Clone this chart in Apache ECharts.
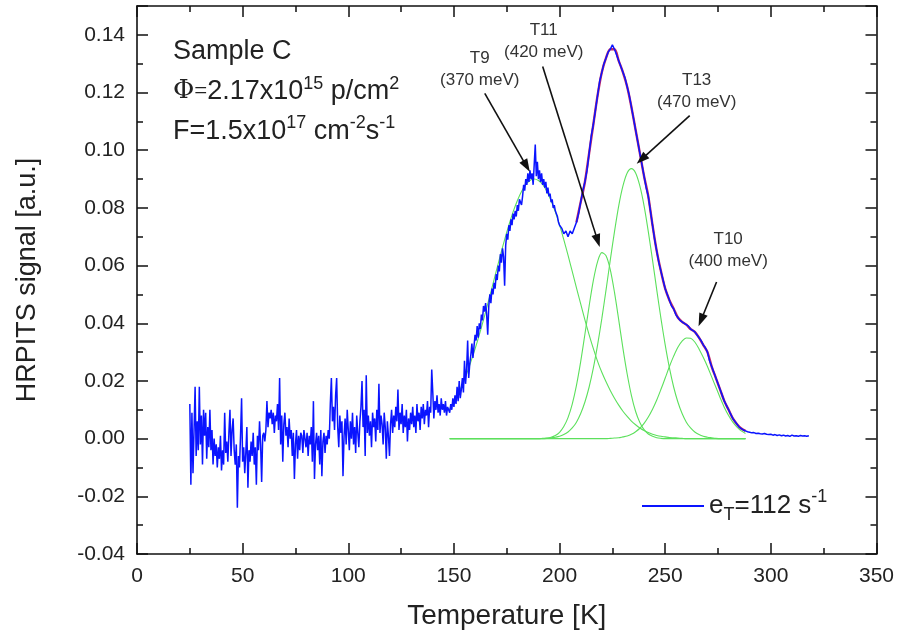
<!DOCTYPE html>
<html><head><meta charset="utf-8">
<script src="https://cdn.jsdelivr.net/npm/echarts@6/dist/echarts.min.js"></script>
<style>html,body{margin:0;padding:0;background:#fff}#c{width:897px;height:635px}</style>
</head><body><div id="c"></div>
<script>
// ---------- axes ----------
const xMin = 0, xMax = 350, xStep = 50;
const yMin = -0.04, yMax = 0.15, yStep = 0.02, yMinorStep = 0.01;
const xTitle = 'Temperature [K]';
const yTitle = 'HRPITS signal [a.u.]';

// ---------- measured HRPITS signal (blue) ----------
const blueStartA = 25, blueStepA = 0.5;
const blueValuesA = [
 0.012,-0.016,0.009,-0.012,0.003,0.018,-0.006,0.006,-0.004,0.018,
 -0.002,0.008,-0.009,0.010,0.001,0.009,-0.007,0.004,-0.003,0.010,
 -0.004,0.003,-0.009,0.000,-0.006,-0.002,-0.010,-0.003,-0.007,0.001,
 -0.011,-0.004,-0.009,0.009,-0.005,-0.001,-0.008,0.002,0.010,-0.006,
 0.003,0.007,-0.004,-0.009,-0.002,-0.024,-0.006,-0.010,0.001,0.014,
 -0.008,-0.003,-0.012,-0.005,0.004,-0.017,-0.004,-0.008,-0.001,-0.006,
 0.002,-0.009,-0.003,-0.016,0.001,-0.004,0.006,-0.002,-0.015,0.001,
 0.002,-0.001,0.003,0.013,0.004,0.009,0.007,0.010,0.005,0.009,
 0.002,0.008,0.006,0.012,0.003,0.021,-0.002,0.008,-0.008,0.005,
 0.009,0.001,0.004,-0.003,0.007,0.000,0.003,-0.006,0.002,-0.014,
 -0.002,0.003,-0.007,0.001,-0.004,0.002,0.001,-0.005,0.003,0.000,
 -0.003,0.002,-0.006,0.001,-0.002,0.004,-0.008,0.013,-0.014,-0.002,
 0.002,-0.004,0.001,-0.009,0.003,-0.013,-0.001,0.002,-0.005,0.001,
 -0.002,0.003,0.000,0.012,0.021,0.006,0.011,0.003,0.015,0.021,
 0.004,-0.003,0.008,0.002,0.006,-0.013,0.001,0.007,-0.002,0.010,
 0.003,-0.004,0.006,0.000,0.009,-0.002,0.004,-0.005,0.008,0.002,
 -0.003,0.006,0.011,0.020,0.004,0.010,-0.006,0.022,0.002,0.008,
 0.001,0.006,-0.003,0.009,0.004,0.007,-0.001,0.010,0.003,0.019,
 0.002,0.008,0.005,-0.002,0.009,0.004,-0.007,0.006,0.001,-0.006,
 0.005,0.010,0.002,0.008,0.004,0.011,0.006,0.017,0.003,0.009,
 0.005,0.012,0.002,0.008,0.004,0.010,-0.001,0.007,0.003,0.009,
 0.005,0.011,0.004,0.008,0.002,0.012,0.006,0.009,0.003,0.011,
 0.007,0.012,0.005,0.010,0.008,0.013,0.004,0.011,0.009,0.024,
 0.016,0.007,0.013,0.010,0.015,0.009,0.012,0.008,0.014,0.010,
 0.012,0.009,0.013,0.008,0.011,0.010,0.009,0.012,0.010,0.014,
 0.011,0.015,0.012,0.018,0.013,0.020,0.014,0.017,0.021,0.016,
 0.027,0.019,0.024,0.034,0.021,0.026,0.029,0.033,0.028,0.032,
 0.036,0.034,0.039,0.035,0.040,0.038,0.043,0.041,0.046,0.044,
 0.047,0.043,0.036,0.046,0.050,0.047,0.052,0.050,0.054,0.052,
 0.057,0.055,0.060,0.058,0.064,0.061,0.066,0.063,0.053,0.067,
 0.071,0.069,0.074,0.072,0.076,0.074,0.078,0.076,0.079,0.077,
 0.081,0.079,0.083,0.082,0.081,0.084,0.088,0.086,0.090,0.088,
 0.092,0.089,0.093,0.090,0.092,0.088,0.095,0.102,0.091,0.096,
 0.090,0.093,0.089,0.092,0.088,0.090,0.087,0.089,0.085,0.087,
 0.084,0.085,0.082,0.083,0.080,0.081,0.079,0.078,0.077,0.075,
 0.074
];
const blueStartB = 201, blueStepB = 1;
const blueValuesB = [
 0.073,0.071,0.072,0.070,0.072,0.071,0.073,0.075,0.078,0.082,
 0.086,0.089,0.093,0.099,0.105,0.109,0.114,0.119,0.124,0.127,
 0.130,0.132,0.134,0.135,0.1365,0.135,0.133,0.131,0.129,0.127,
 0.125,0.122,0.119,0.115,0.111,0.107,0.103,0.099,0.095,0.091,
 0.087,0.084,0.079,0.074,0.069,0.065,0.061,0.058,0.055,0.052,
 0.050,0.048,0.046,0.045,0.043,0.042,0.041,0.0405,0.040,0.0395,
 0.039,0.038,0.0375,0.037,0.036,0.035,0.034,0.0325,0.0315,0.030,
 0.027,0.025,0.023,0.021,0.019,0.017,0.015,0.013,0.0115,0.010,
 0.0085,0.007,0.006,0.005,0.004,0.0035,0.003,0.0027,0.0024,0.0022,
 0.0020,0.0021,0.0018,0.0019,0.0017,0.0016,0.0018,0.0015,0.0014,0.0015,
 0.0012,0.0014,0.0011,0.0013,0.0010,0.0012,0.0009,0.0011,0.0008,0.0012,
 0.0009,0.0010,0.0008,0.0011,0.0009,0.0010,0.0008,0.0010
];

// ---------- fitted components (green), T = 148..288 step 2 ----------
const fitStart = 148, fitStep = 2;
const fitT9 = [
 0.0103,0.0127,0.0155,0.0188,0.0224,0.0266,0.0311,0.0360,0.0412,0.0467,
 0.0523,0.0580,0.0636,0.0690,0.0740,0.0786,0.0825,0.0857,0.0881,0.0895,
 0.0900,0.0895,0.0881,0.0857,0.0825,0.0786,0.0740,0.0690,0.0636,0.0580,
 0.0523,0.0467,0.0412,0.0360,0.0312,0.0268,0.0230,0.0197,0.0167,0.0140,
 0.0116,0.0095,0.0077,0.0061,0.0048,0.0037,0.0028,0.0021,0.0015,0.0011,
 0.0008,0.0006,0.0004,0.0003,0.0002,0.0001,0,0,0,0,
 0,0,0,0,0,0,0,0,0,0,0
];
const fitT11 = [
 0,0,0,0,0,0,0,0,0,0,
 0,0,0,0,0,0,0,0,0,0,
 0,0,0.0001,0.0002,0.0005,0.0011,0.0022,0.0042,0.0073,0.0120,
 0.0185,0.0267,0.0362,0.0460,0.0549,0.0614,0.0645,0.0634,0.0586,0.0507,
 0.0412,0.0313,0.0224,0.0150,0.0094,0.0056,0.0031,0.0016,0.0008,0.0003,
 0.0001,0,0,0,0,0,0,0,0,0,
 0,0,0,0,0,0,0,0,0,0,0
];
const fitT13 = [
 0,0,0,0,0,0,0,0,0,0,
 0,0,0,0,0,0,0,0,0,0,
 0,0,0,0.0001,0.0003,0.0005,0.0008,0.0014,0.0023,0.0037,
 0.0057,0.0087,0.0127,0.0179,0.0245,0.0325,0.0416,0.0516,0.0619,0.0718,
 0.0807,0.0876,0.0921,0.0936,0.0921,0.0876,0.0807,0.0718,0.0619,0.0516,
 0.0416,0.0325,0.0245,0.0179,0.0127,0.0087,0.0057,0.0037,0.0023,0.0014,
 0.0008,0.0005,0.0003,0.0001,0,0,0,0,0,0,0
];
const fitT10 = [
 0,0,0,0,0,0,0,0,0,0,
 0,0,0,0,0,0,0,0,0,0,
 0,0,0,0,0,0,0,0,0,0,
 0,0,0,0,0,0,0,0,0.0001,0.0002,
 0.0003,0.0006,0.0009,0.0015,0.0024,0.0036,0.0053,0.0075,0.0102,0.0134,
 0.0171,0.0210,0.0250,0.0286,0.0317,0.0338,0.0349,0.0348,0.0335,0.0311,
 0.0282,0.0250,0.0214,0.0178,0.0142,0.0108,0.0080,0.0057,0.0040,0.0027,0.0018
];
// ---------- total fit (red, lying under the blue data), T = 208..288 step 2 ----------
const sumStart = 208, sumStep = 2;
const fitSum = [
 0.075,0.082,0.089,0.099,0.109,0.119,0.127,0.132,0.135,0.135,
 0.131,0.127,0.122,0.115,0.107,0.099,0.091,0.084,0.074,0.065,
 0.058,0.052,0.048,0.045,0.042,0.0405,0.0395,0.038,0.037,0.035,
 0.0325,0.030,0.025,0.021,0.017,0.013,0.010,0.007,0.005,0.0035,0.0027
];

// ---------- annotations (data coordinates) ----------
const trapLabels = ['T9\n(370 meV)', 'T11\n(420 meV)', 'T13\n(470 meV)', 'T10\n(400 meV)'];
const trapLabelAt = [[162.2, 0.1280], [192.5, 0.1379], [264.9, 0.1203], [279.8, 0.0654]];
const trapArrows = [
  [[164.6, 0.1197], [185.9, 0.0925]],
  [[192.0, 0.1290], [219.0, 0.0664]],
  [[261.6, 0.1120], [236.5, 0.0953]],
  [[274.3, 0.0543], [265.8, 0.0390]]
];
const infoAt = [[17.0, 0.1343], [17.0, 0.1203], [17.0, 0.1066]];

function seq(start, step, vals) {
  return vals.map((v, i) => [+(start + i * step).toFixed(3), v]);
}

const FONT = 'Liberation Sans';
const AX = '#111';
const chart = echarts.init(document.getElementById('c'), null, {renderer: 'canvas'});

function xAx(pos, labels) {
  return {
    type: 'value', min: xMin, max: xMax, interval: xStep, position: pos,
    axisLine: {show: true, onZero: false, lineStyle: {color: AX, width: 1.6}},
    axisTick: {show: true, inside: true, length: 11, lineStyle: {color: AX, width: 1.5}},
    minorTick: {show: true, splitNumber: 2, length: 6, lineStyle: {color: AX, width: 1.5}},
    splitLine: {show: false},
    axisLabel: {show: labels, fontSize: 21, color: '#222', fontFamily: FONT, margin: 12},
    name: labels ? xTitle : '', nameLocation: 'middle', nameGap: 48,
    nameTextStyle: {fontSize: 28, color: '#222', fontFamily: FONT}
  };
}
function yAx(pos, step, tickLen, labels, line) {
  return {
    type: 'value', min: yMin, max: yMax, interval: step, position: pos,
    axisLine: {show: line, onZero: false, lineStyle: {color: AX, width: 1.6}},
    axisTick: {show: true, inside: true, length: tickLen, lineStyle: {color: AX, width: 1.5}},
    splitLine: {show: false},
    axisLabel: {show: labels, fontSize: 21, color: '#222', fontFamily: FONT, margin: 12,
      formatter: v => (v > yMax - 0.005 ? '' : v.toFixed(2))},
    name: labels ? yTitle : '', nameLocation: 'middle', nameGap: 96,
    nameTextStyle: {fontSize: 27, color: '#222', fontFamily: FONT}
  };
}

const green = '#5ce05c';
function fitSeries(name, vals) {
  return {name: name, type: 'line', data: seq(fitStart, fitStep, vals), showSymbol: false, symbol: 'none',
    smooth: 0.3, lineStyle: {color: green, width: 1.1}, silent: true, z: 2};
}

chart.setOption({
  animation: false,
  backgroundColor: '#fff',
  grid: {left: 137, top: 6, width: 740, height: 548, containLabel: false},
  xAxis: [xAx('bottom', true), xAx('top', false)],
  yAxis: [yAx('left', yStep, 11, true, true), yAx('left', yMinorStep, 6, false, false),
          yAx('right', yStep, 11, false, true), yAx('right', yMinorStep, 6, false, false)],
  legend: {
    data: [{name: 'eT', icon: 'rect'}], left: 642, top: 488, padding: 0, itemWidth: 62, itemHeight: 2, itemGap: 0,
    formatter: () => '{m|e}{sub|T}{m|=112 s}{sup|-1}',
    textStyle: {
      rich: {
        m: {fontSize: 26, fontFamily: FONT, color: '#222', lineHeight: 36},
        sub: {fontSize: 18, fontFamily: FONT, color: '#222', lineHeight: 18, verticalAlign: 'bottom'},
        sup: {fontSize: 18, fontFamily: FONT, color: '#222', lineHeight: 18, verticalAlign: 'top'}
      }
    }
  },
  series: [
    fitSeries('T9', fitT9), fitSeries('T11', fitT11), fitSeries('T13', fitT13), fitSeries('T10', fitT10),
    {name: 'fit', type: 'line', data: seq(sumStart, sumStep, fitSum), showSymbol: false, symbol: 'none',
      smooth: 0.3, lineStyle: {color: '#c02868', width: 2.4}, silent: true, z: 3},
    {name: 'eT', type: 'line', data: seq(blueStartA, blueStepA, blueValuesA).concat(seq(blueStartB, blueStepB, blueValuesB)),
      showSymbol: false, symbol: 'none', lineStyle: {color: '#0a14ff', width: 1.5}, itemStyle: {color: '#0a14ff'},
      silent: true, z: 4}
  ]
});

// annotations placed through the axis scales
const px = p => chart.convertToPixel({xAxisIndex: 0, yAxisIndex: 0}, p);
const graphics = [];
trapArrows.forEach(a => {
  const s = px(a[0]), e = px(a[1]);
  const dx = e[0] - s[0], dy = e[1] - s[1], L = Math.hypot(dx, dy);
  const ux = dx / L, uy = dy / L, hl = 13, hw = 4.5;
  const bx = e[0] - ux * hl, by = e[1] - uy * hl;
  graphics.push({type: 'line', z: 9, silent: true,
    shape: {x1: s[0], y1: s[1], x2: bx + ux * 2, y2: by + uy * 2},
    style: {stroke: '#111', lineWidth: 1.6}});
  graphics.push({type: 'polygon', z: 9, silent: true,
    shape: {points: [[e[0], e[1]], [bx - uy * hw, by + ux * hw], [bx + uy * hw, by - ux * hw]]},
    style: {fill: '#111'}});
});
trapLabels.forEach((t, i) => {
  const p = px(trapLabelAt[i]);
  graphics.push({type: 'text', x: p[0], y: p[1], z: 10, silent: true,
    style: {text: t, fontSize: 17, fontFamily: FONT, fill: '#333', lineHeight: 22,
      align: 'center', verticalAlign: 'middle'}});
});
const infoTexts = [
  'Sample C',
  '{phi|Φ}{eq|=}{m|2.17x10}{sup|15}{m| p/cm}{sup|2}',
  '{m|F=1.5x10}{sup|17}{m| cm}{sup|-2}{m|s}{sup|-1}'
];
const richInfo = {
  m: {fontSize: 27, fontFamily: FONT, fill: '#222', lineHeight: 34},
  phi: {fontSize: 26, fontFamily: 'DejaVu Serif', fill: '#222', lineHeight: 34},
  eq: {fontSize: 23, fontFamily: 'Liberation Serif', fill: '#222', lineHeight: 34},
  sup: {fontSize: 18, fontFamily: FONT, fill: '#222', lineHeight: 18, verticalAlign: 'top'}
};
infoTexts.forEach((t, i) => {
  const p = px(infoAt[i]);
  graphics.push({type: 'text', x: p[0], y: p[1], z: 10, silent: true,
    style: i === 0
      ? {text: t, fontSize: 27, fontFamily: FONT, fill: '#222', align: 'left', verticalAlign: 'middle'}
      : {text: t, rich: richInfo, align: 'left', verticalAlign: 'middle'}});
});
chart.setOption({graphic: graphics});
</script>
</body></html>
